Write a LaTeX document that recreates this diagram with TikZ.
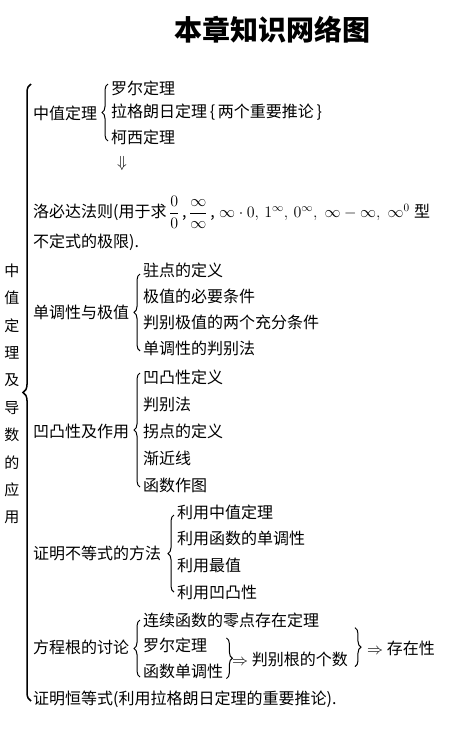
\documentclass[tikz,border=0pt]{standalone}
\usepackage{amsmath}
\usepackage{amssymb}
\usepackage{fix-cm}
\usepackage[no-math]{fontspec}
\setmainfont{Noto Sans CJK SC}
\usetikzlibrary{positioning}
\usetikzlibrary{decorations.pathreplacing}

\begin{document}
\begin{tikzpicture}[x=1pt,y=-1pt,
				head node/.style={anchor=west,inner sep=0pt,
					font=\fontsize{16}{18}\selectfont},
				leaf node/.style={anchor=west,inner sep=0pt,
					font=\fontsize{16}{18}\selectfont},
				brace line/.style={decorate,decoration={brace,amplitude=6pt},line width=1pt}]
				
				\useasboundingbox (0,0) rectangle (448,731);
				
				\node[font=\fontsize{28}{30}\selectfont\bfseries] (title) at (272,30) {本章知识网络图};
				
				\node[align=center,inner sep=0pt,font=\fontsize{15}{27.4}\selectfont] (side) at (12,394)
					{中\\值\\定\\理\\及\\导\\数\\的\\应\\用};
				\coordinate (btop) at (31,84);
				\coordinate (bbot) at (31,701);
				\draw[brace line,line width=1.5pt,decoration={amplitude=8pt}] (bbot) -- (btop);
				
				\node[head node] (mvt) at (33,113) {中值定理};
				\node[leaf node] (rolle) at (111,88) {罗尔定理};
				\node[below=24.5pt of rolle.west, leaf node] (lagrange) {拉格朗日定理\,\{\,两个重要推论\,\}};
				\node[below=24.5pt of lagrange.west, leaf node] (cauchy) {柯西定理};
				\draw[brace line] ([xshift=-3pt,yshift=-4pt]cauchy.west) -- ([xshift=-3pt,yshift=4pt]rolle.west);
				\node[leaf node] (down) at (117,163) {$\Downarrow$};
				
				\node[head node] (lhop) at (33,212)
					{洛必达法则(用于求\,$\dfrac{0}{0}$\,,\,$\dfrac{\infty}{\infty}$\,,\;$\infty\cdot0,\,1^{\infty},\,0^{\infty},\;\infty-\infty,\;\infty^{0}$\;型};
				\node[below=30pt of lhop.west, leaf node] (lhopb) {不定式的极限).};
				
				\node[head node] (mono) at (33,312) {单调性与极值};
				\node[leaf node] (stat) at (143,270) {驻点的定义};
				\node[below=26.3pt of stat.west, leaf node] (nec) {极值的必要条件};
				\node[below=26.3pt of nec.west, leaf node] (suff) {判别极值的两个充分条件};
				\node[below=26.3pt of suff.west, leaf node] (judge) {单调性的判别法};
				\draw[brace line] ([xshift=-3pt,yshift=-2pt]judge.west) -- ([xshift=-3pt,yshift=-4pt]stat.west);
				
				\node[head node] (conv) at (33,431) {凹凸性及作用};
				\node[leaf node] (cdef) at (143,377) {凹凸性定义};
				\node[below=27pt of cdef.west, leaf node] (cjudge) {判别法};
				\node[below=27pt of cjudge.west, leaf node] (infl) {拐点的定义};
				\node[below=27pt of infl.west, leaf node] (asym) {渐近线};
				\node[below=27pt of asym.west, leaf node] (plot) {函数作图};
				\draw[brace line] ([xshift=-3pt,yshift=-2pt]plot.west) -- ([xshift=-3pt,yshift=4pt]cdef.west);
				
				\node[head node] (ineq) at (33,553) {证明不等式的方法};
				\node[leaf node] (bymvt) at (177,512) {利用中值定理};
				\node[below=26.7pt of bymvt.west, leaf node] (bymono) {利用函数的单调性};
				\node[below=26.7pt of bymono.west, leaf node] (bymax) {利用最值};
				\node[below=26.7pt of bymax.west, leaf node] (byconv) {利用凹凸性};
				\draw[brace line] ([xshift=-3pt]byconv.west) -- ([xshift=-3pt,yshift=-3pt]bymvt.west);
				
				\node[head node] (root) at (33,647) {方程根的讨论};
				\node[leaf node] (zero) at (143,620) {连续函数的零点存在定理};
				\node[below=25.5pt of zero.west, leaf node] (rolleb) {罗尔定理};
				\node[below=25.5pt of rolleb.west, leaf node] (monob) {函数单调性};
				\draw[brace line] ([xshift=-3pt,yshift=-6pt]monob.west) -- ([xshift=-3pt]zero.west);
				\draw[brace line] ([xshift=3pt]monob.east |- rolleb.north) -- ([xshift=3pt]monob.south east);
				\node[leaf node] (count) at (232,659) {$\Rightarrow$ 判别根的个数};
				\draw[brace line] ([xshift=7pt]count.east |- zero.south) -- ([xshift=7pt]count.south east);
				\node[leaf node] (exist) at (367,648) {$\Rightarrow$ 存在性};
				
				\node[head node] (ident) at (33,699) {证明恒等式(利用拉格朗日定理的重要推论).};
			\end{tikzpicture}
\end{document}
